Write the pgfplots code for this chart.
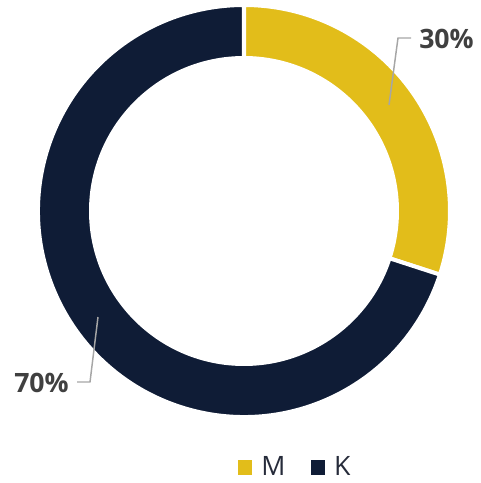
\documentclass[border=0pt]{standalone}
\usepackage{fontspec}
\setmainfont{Open Sans}
\usepackage{pgfplots}
\usepackage{pgfplotstable}
\pgfplotsset{compat=1.18}
\definecolor{ycol}{HTML}{E2BD1A}
\definecolor{ncol}{HTML}{0F1C36}
\definecolor{labgray}{HTML}{404040}
\definecolor{leadgray}{HTML}{A6A6A6}
\definecolor{legtext}{HTML}{262B3A}
\pgfplotstableread{
label value
M 30
K 70
}\piedata
\begin{document}%
\begin{tikzpicture}
\pgfplotstablegetelem{0}{value}\of\piedata \let\vM\pgfplotsretval
\pgfplotstablegetelem{1}{value}\of\piedata \let\vK\pgfplotsretval
\pgfmathsetmacro\aS{90}
\pgfmathsetmacro\aM{90-360*(\vM/(\vM+\vK))}
\pgfmathsetmacro\aK{\aM-360*(\vK/(\vM+\vK))}
\begin{axis}[
  scale only axis, width=360pt, height=362.25pt,
  xmin=0, xmax=480, ymin=0, ymax=483, y dir=reverse,
  hide axis, clip=false,
  legend columns=2,
  legend style={at={(axis cs:295.5,467)}, anchor=center, draw=none, fill=none,
    font=\fontsize{20}{24}\selectfont, text=legtext,
    /tikz/every even column/.append style={column sep=17pt},
    /tikz/every odd column/.append style={column sep=5pt}},
  legend image code/.code={\fill[#1] (0pt,-5.1pt) rectangle (10.2pt,5.1pt);},
]
\path (axis cs:0,0) rectangle (axis cs:480,483);
% donut slices (angles from the table values)
\fill[ycol, draw=white, line width=3pt]
  ([shift={(\aS:154.5pt)}]axis cs:244,211) arc[start angle=\aS, end angle=\aM, radius=154.5pt]
  -- ([shift={(\aM:114.75pt)}]axis cs:244,211) arc[start angle=\aM, end angle=\aS, radius=114.75pt] -- cycle;
\fill[ncol, draw=white, line width=3pt]
  ([shift={(\aM:154.5pt)}]axis cs:244,211) arc[start angle=\aM, end angle=\aK, radius=154.5pt]
  -- ([shift={(\aK:114.75pt)}]axis cs:244,211) arc[start angle=\aK, end angle=\aM, radius=114.75pt] -- cycle;
% leader lines
\addplot[leadgray, line width=1.1pt, no marks, forget plot] coordinates {(389,105) (398,38) (411,38)};
\addplot[leadgray, line width=1.1pt, no marks, forget plot] coordinates {(98,317) (90,382) (77,382)};
% labels
\node[anchor=west, inner sep=0pt, text=labgray, font=\bfseries\fontsize{20}{24}\selectfont] at (axis cs:419,39) {30\%};
\node[anchor=east, inner sep=0pt, text=labgray, font=\bfseries\fontsize{20}{24}\selectfont] at (axis cs:69,383) {70\%};
\addlegendimage{ycol}
\addlegendentry{M}
\addlegendimage{ncol}
\addlegendentry{K}
\end{axis}
\end{tikzpicture}%
\end{document}
